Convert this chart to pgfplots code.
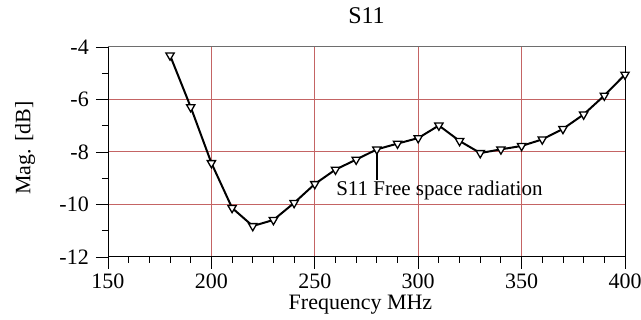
\documentclass[border=0pt]{standalone}
\usepackage{pgfplots}
\pgfplotsset{compat=1.18}
\usetikzlibrary{calc}
\usepackage{fontspec}
\setmainfont{Liberation Serif}
\definecolor{gridred}{RGB}{196,100,100}
\definecolor{topgray}{RGB}{110,110,110}
\begin{document}
\fontsize{21bp}{25bp}\selectfont
\begin{tikzpicture}
\begin{axis}[
  scale only axis,
  width=517bp, height=210bp,
  xmin=150, xmax=400, ymin=-12, ymax=-4,
  xtick={150,200,...,400}, ytick={-12,-10,...,-4},
  minor x tick num=4, minor y tick num=1,
  tick align=outside, tick pos=left,
  major tick length=12bp, minor tick length=6bp,
  tick style={black, line width=0.9pt},
  axis line style={line width=1pt},
  xmajorgrids, ymajorgrids,
  major grid style={gridred, line width=1pt},
  /pgf/number format/assume math mode=true,
  ticklabel style={font=\fontsize{22bp}{26bp}\selectfont},
  xticklabel style={yshift=2bp},
  title={S11},
  title style={at={(axis description cs:0.5,1)}, anchor=center, yshift=25bp, font=\fontsize{24bp}{28bp}\selectfont},
  xlabel={Frequency MHz},
  xlabel style={at={(axis description cs:0.5,0)}, anchor=center, yshift=-48bp, xshift=-6bp, font=\fontsize{22bp}{26bp}\selectfont},
  ylabel={Mag. [dB]},
  ylabel style={at={(axis description cs:0,0.5)}, anchor=center, yshift=83bp, xshift=4bp, font=\fontsize{22bp}{26bp}\selectfont},
  clip=false,
]
\draw[topgray, line width=1pt] (axis cs:150,-4) -- (axis cs:400,-4);
\draw[black, line width=1pt] (axis cs:400,-4) -- (axis cs:400,-12);
\addplot[black, line width=2pt, mark=triangle*, mark size=4.8bp,
  mark options={rotate=180, fill=white, line width=1.3pt}] coordinates {
(180,-4.32) (190,-6.29) (200,-8.42) (210,-10.13) (220,-10.82) (230,-10.59)
(240,-9.94) (250,-9.22) (260,-8.67) (270,-8.29) (280,-7.90) (290,-7.68)
(300,-7.47) (310,-6.99) (320,-7.58) (330,-8.04) (340,-7.90) (350,-7.77)
(360,-7.52) (370,-7.12) (380,-6.57) (390,-5.85) (400,-5.05)
};
\draw[black, line width=2pt] (axis cs:280,-7.90) -- (axis cs:280,-9.05);
\node[anchor=west, inner sep=0pt, font=\fontsize{21bp}{25bp}\selectfont] at (axis cs:260.3,-9.45) {S11 Free space radiation};
\end{axis}
\pgfresetboundingbox
\path (current axis.south west) ++(-108bp,-63bp) rectangle ($(current axis.north east)+(16bp,47bp)$);
\end{tikzpicture}
\end{document}
